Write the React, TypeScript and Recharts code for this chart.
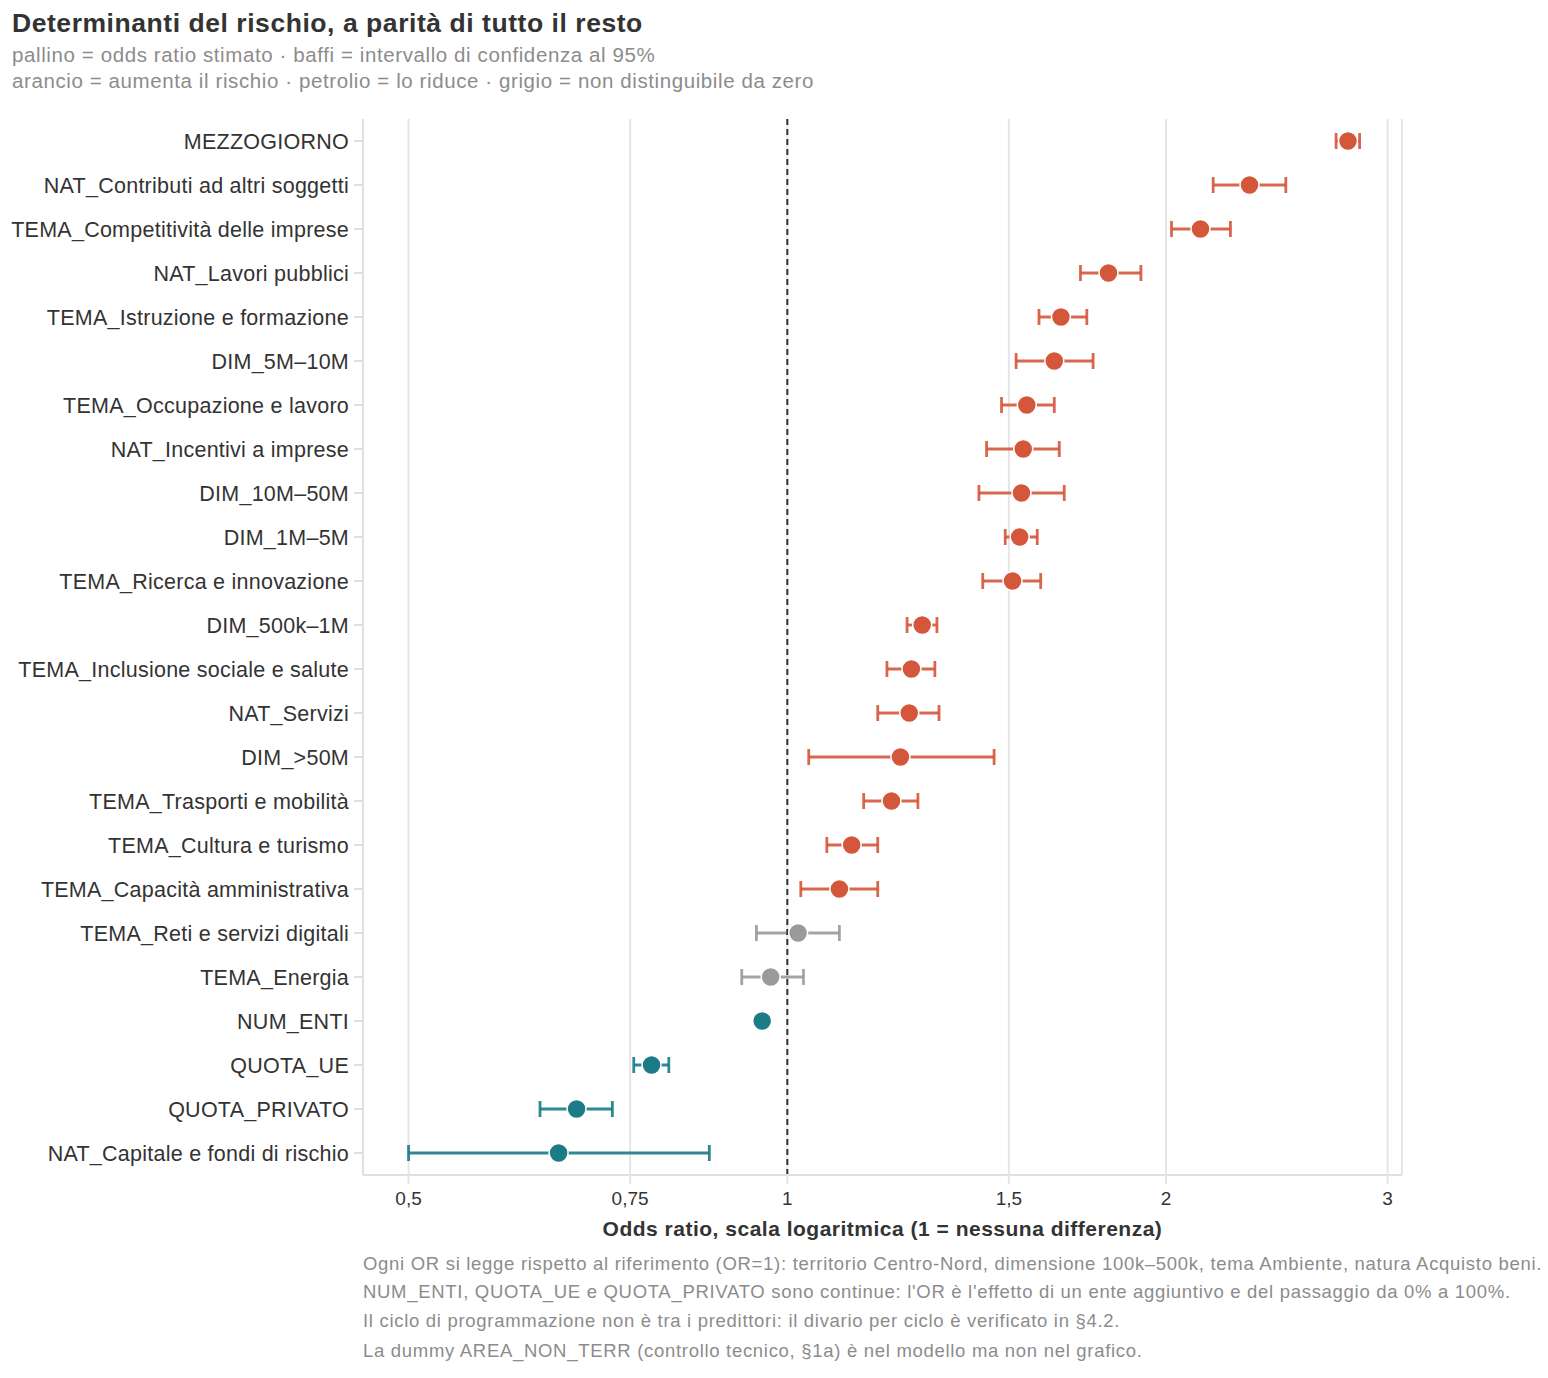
import React from "react";
import {
  ComposedChart,
  Bar,
  Line,
  XAxis,
  YAxis,
  CartesianGrid,
  ReferenceLine,
} from "recharts";

const labels = [
  "MEZZOGIORNO",
  "NAT_Contributi ad altri soggetti",
  "TEMA_Competitività delle imprese",
  "NAT_Lavori pubblici",
  "TEMA_Istruzione e formazione",
  "DIM_5M–10M",
  "TEMA_Occupazione e lavoro",
  "NAT_Incentivi a imprese",
  "DIM_10M–50M",
  "DIM_1M–5M",
  "TEMA_Ricerca e innovazione",
  "DIM_500k–1M",
  "TEMA_Inclusione sociale e salute",
  "NAT_Servizi",
  "DIM_>50M",
  "TEMA_Trasporti e mobilità",
  "TEMA_Cultura e turismo",
  "TEMA_Capacità amministrativa",
  "TEMA_Reti e servizi digitali",
  "TEMA_Energia",
  "NUM_ENTI",
  "QUOTA_UE",
  "QUOTA_PRIVATO",
  "NAT_Capitale e fondi di rischio",
];

const oddsRatio = [
  2.79, 2.33, 2.13, 1.8, 1.65, 1.63, 1.55, 1.54, 1.535, 1.53, 1.51, 1.28,
  1.255, 1.25, 1.23, 1.21, 1.125, 1.1, 1.02, 0.97, 0.955, 0.78, 0.68, 0.658,
];

const ciLow = [
  2.73, 2.18, 2.02, 1.71, 1.585, 1.52, 1.48, 1.44, 1.42, 1.49, 1.43, 1.245,
  1.2, 1.18, 1.04, 1.15, 1.075, 1.025, 0.945, 0.92, 0.953, 0.755, 0.636, 0.5,
];

const ciHigh = [
  2.85, 2.49, 2.25, 1.91, 1.73, 1.75, 1.63, 1.645, 1.66, 1.58, 1.59, 1.315,
  1.31, 1.32, 1.46, 1.27, 1.18, 1.18, 1.1, 1.03, 0.957, 0.805, 0.726, 0.867,
];

const xTicks = [0.5, 0.75, 1, 1.5, 2, 3];

const ORANGE = "#d4573b";
const TEAL = "#1b7b86";
const GREY = "#9a9a9a";
const FONT = "'Liberation Sans', Arial, Helvetica, sans-serif";

const data = labels.map((name, i) => ({
  name,
  or: oddsRatio[i],
  ci: [ciLow[i], ciHigh[i]],
  color: ciLow[i] > 1 ? ORANGE : ciHigh[i] < 1 ? TEAL : GREY,
}));

// baffi: linea orizzontale lo-hi con due stanghette
function Whisker(props: any) {
  const { x, y, width, height, payload } = props;
  if (x == null || width == null) return null;
  const cy = y + height / 2;
  const c = payload.color;
  return (
    <g stroke={c} strokeWidth={2.8} strokeOpacity={0.9}>
      <line x1={x} x2={x + width} y1={cy} y2={cy} />
      <line x1={x} x2={x} y1={cy - 8} y2={cy + 8} />
      <line x1={x + width} x2={x + width} y1={cy - 8} y2={cy + 8} />
    </g>
  );
}

function Point(props: any) {
  const { cx, cy, payload, index } = props;
  if (cx == null || cy == null) return <g key={index} />;
  return <circle key={index} cx={cx} cy={cy} r={9.5} fill={payload.color} stroke="#fff" strokeWidth={1.5} />;
}

const fmt = (v: number) => String(v).replace(".", ",");

export default function App() {
  return (
    <div style={{ position: "absolute", left: 0, top: 0, width: 1548, height: 1378, background: "#fff", fontFamily: FONT }}>
      <ComposedChart
        width={1548}
        height={1378}
        data={data}
        layout="vertical"
        margin={{ top: 119, right: 146, bottom: 173, left: 0 }}
      >
        <CartesianGrid horizontal={false} stroke="#e6e6e6" strokeWidth={2} />
        <XAxis
          type="number"
          scale="log"
          domain={[0.46, 3.08]}
          allowDataOverflow
          ticks={xTicks}
          tickFormatter={fmt}
          tickSize={9}
          tickMargin={8}
          height={30}
          axisLine={{ stroke: "#e0e0e0", strokeWidth: 2 }}
          tickLine={{ stroke: "#e6e6e6", strokeWidth: 2 }}
          tick={{ fontSize: 19, fill: "#333", fontFamily: FONT }}
        />
        <YAxis
          type="category"
          dataKey="name"
          width={363}
          interval={0}
          tickSize={9}
          tickMargin={5}
          axisLine={{ stroke: "#e0e0e0", strokeWidth: 2 }}
          tickLine={{ stroke: "#e0e0e0", strokeWidth: 2 }}
          tick={{ fontSize: 21.5, fill: "#333", fontFamily: FONT, letterSpacing: 0.25 }}
        />
        <ReferenceLine x={1} stroke="#333" strokeWidth={2} strokeDasharray="6 4" />
        <Bar dataKey="ci" barSize={16} shape={<Whisker />} isAnimationActive={false} />
        <Line
          dataKey="or"
          stroke="none"
          strokeWidth={0}
          dot={<Point />}
          activeDot={false}
          isAnimationActive={false}
        />
      </ComposedChart>
      <svg
        width={1548}
        height={1378}
        style={{ position: "absolute", left: 0, top: 0, pointerEvents: "none" }}
        fontFamily={FONT}
      >
        <text x={12} y={32} fontSize={26.5} fontWeight="bold" fill="#333" letterSpacing={0.55}>
          Determinanti del rischio, a parità di tutto il resto
        </text>
        <text x={12} y={62} fontSize={20.5} fill="#8c8c8c" letterSpacing={0.6}>
          pallino = odds ratio stimato · baffi = intervallo di confidenza al 95%
        </text>
        <text x={12} y={88} fontSize={20.5} fill="#8c8c8c" letterSpacing={0.6}>
          arancio = aumenta il rischio · petrolio = lo riduce · grigio = non distinguibile da zero
        </text>
        <text x={882.5} y={1236} fontSize={21} fontWeight="bold" fill="#333" textAnchor="middle" letterSpacing={0.5}>
          Odds ratio, scala logaritmica (1 = nessuna differenza)
        </text>
        <g fontSize={18.5} fill="#8c8c8c" letterSpacing={0.7}>
          <text x={363} y={1270}>
            Ogni OR si legge rispetto al riferimento (OR=1): territorio Centro-Nord, dimensione 100k–500k, tema Ambiente, natura Acquisto beni.
          </text>
          <text x={363} y={1298}>
            NUM_ENTI, QUOTA_UE e QUOTA_PRIVATO sono continue: l'OR è l'effetto di un ente aggiuntivo e del passaggio da 0% a 100%.
          </text>
          <text x={363} y={1327}>
            Il ciclo di programmazione non è tra i predittori: il divario per ciclo è verificato in §4.2.
          </text>
          <text x={363} y={1357}>
            La dummy AREA_NON_TERR (controllo tecnico, §1a) è nel modello ma non nel grafico.
          </text>
        </g>
      </svg>
    </div>
  );
}
